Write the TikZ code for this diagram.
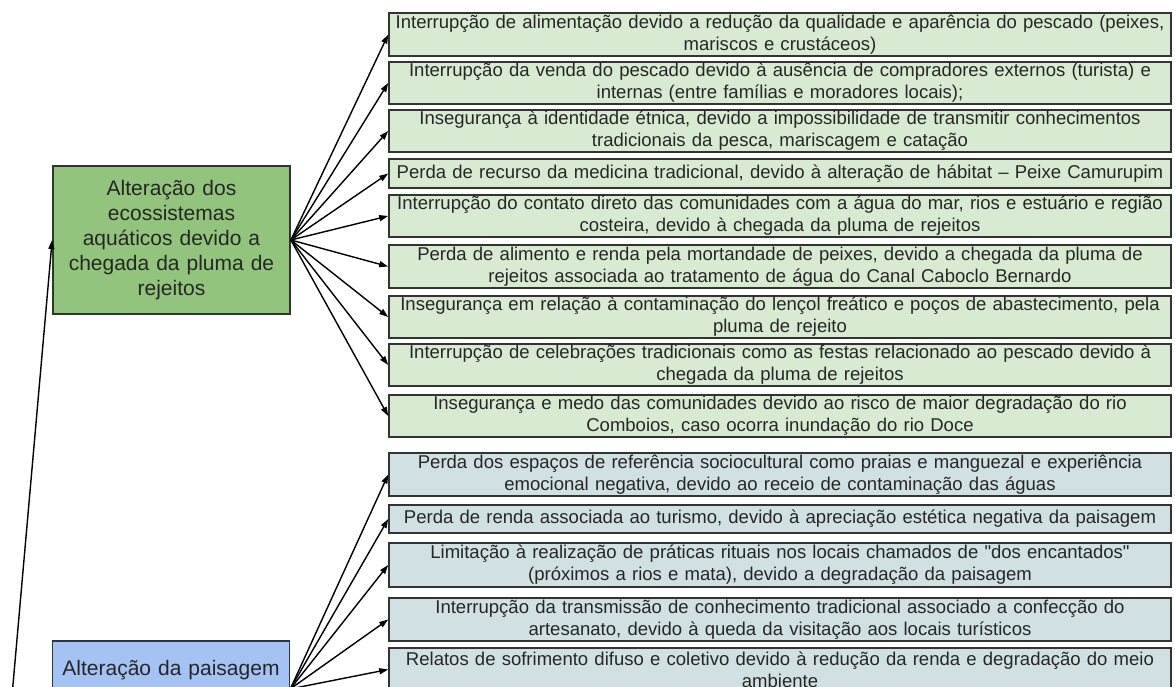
\documentclass[tikz,border=0pt]{standalone}
\usepackage{fontspec}
\setmainfont{Liberation Sans}[Ligatures=TeXOff]
\usetikzlibrary{arrows.meta}
\definecolor{verdeforte}{HTML}{93C47D}
\definecolor{verdeclaro}{HTML}{D9EAD3}
\definecolor{azulforte}{HTML}{A4C2F4}
\definecolor{azulclaro}{HTML}{D0E0E3}
\definecolor{borda}{HTML}{333333}
\begin{document}
\begin{tikzpicture}[x=0.02cm,y=-0.02cm,
  efeito/.style={draw=borda,line width=1pt,minimum width=15.64cm,text width=15.63cm,align=center,inner sep=0pt,text=black!85,font=\fontsize{10.55}{12.5}\selectfont},
  causa/.style={draw=borda,line width=1pt,minimum width=4.74cm,text width=4.5cm,align=center,inner sep=0pt,text=black!85,font=\fontsize{11.95}{14.2}\selectfont},
  seta/.style={-{Triangle[length=0.18cm,width=0.12cm]},line width=0.8pt}]
\useasboundingbox (0,0) rectangle (1175,686);
\clip (0,0) rectangle (1175,686);
\node[causa,fill=verdeforte,minimum height=2.96cm] (ecos) at (171.5,240) {Alteração dos\\ ecossistemas\\ aquáticos devido a\\ chegada da pluma de\\ rejeitos};
\node[causa,fill=azulforte,anchor=north,text height=0.5cm,text depth=1.02cm,inner ysep=0.2cm] (paisagem) at (171,640) {Alteração da paisagem};
\coordinate (origem) at (9,730);
\foreach \i/\y/\h/\t in {
  1/34.5/43/{Interrupção de alimentação devido a redução da qualidade e aparência do pescado (peixes,\\ mariscos e crustáceos)},
  2/83/42/{Interrupção da venda do pescado devido à ausência de compradores externos (turista) e\\ internas (entre famílias e moradores locais);},
  3/131/42/{Insegurança à identidade étnica, devido a impossibilidade de transmitir conhecimentos\\ tradicionais da pesca, mariscagem e catação},
  4/173.5/29/{Perda de recurso da medicina tradicional, devido à alteração de hábitat – Peixe Camurupim},
  5/216/42/{Interrupção do contato direto das comunidades com a água do mar, rios e estuário e região\\ costeira, devido à chegada da pluma de rejeitos},
  6/266.5/43/{Perda de alimento e renda pela mortandade de peixes, devido a chegada da pluma de\\ rejeitos associada ao tratamento de água do Canal Caboclo Bernardo},
  7/317/42/{Insegurança em relação à contaminação do lençol freático e poços de abastecimento, pela\\ pluma de rejeito},
  8/365/42/{Interrupção de celebrações tradicionais como as festas relacionado ao pescado devido à\\ chegada da pluma de rejeitos},
  9/416/42/{Insegurança e medo das comunidades devido ao risco de maior degradação do rio\\ Comboios, caso ocorra inundação do rio Doce}} {
  \node[efeito,fill=verdeclaro,minimum height=\h*0.02cm] (g\i) at (780,\y) {\t};
}
\foreach \i/\y/\h/\t in {
  1/474.5/43/{Perda dos espaços de referência sociocultural como praias e manguezal e experiência\\ emocional negativa, devido ao receio de contaminação das águas},
  2/519/28/{Perda de renda associada ao turismo, devido à apreciação estética negativa da paisagem},
  3/565/44/{Limitação à realização de práticas rituais nos locais chamados de "dos encantados"\\ (próximos a rios e mata), devido a degradação da paisagem},
  4/619.5/43/{Interrupção da transmissão de conhecimento tradicional associado a confecção do\\ artesanato, devido à queda da visitação aos locais turísticos},
  5/669.5/43/{Relatos de sofrimento difuso e coletivo devido à redução da renda e degradação do meio\\ ambiente}} {
  \node[efeito,fill=azulclaro,minimum height=\h*0.02cm] (a\i) at (780,\y) {\t};
}
\foreach \i in {1,...,9} {
	\draw[seta] (ecos.east) -- (g\i.west);
}
\foreach \i in {1,...,5} {
	\draw[seta] (paisagem.east) -- (a\i.west);
}
\draw[seta] (origem) -- (ecos.west);
\end{tikzpicture}
\end{document}
